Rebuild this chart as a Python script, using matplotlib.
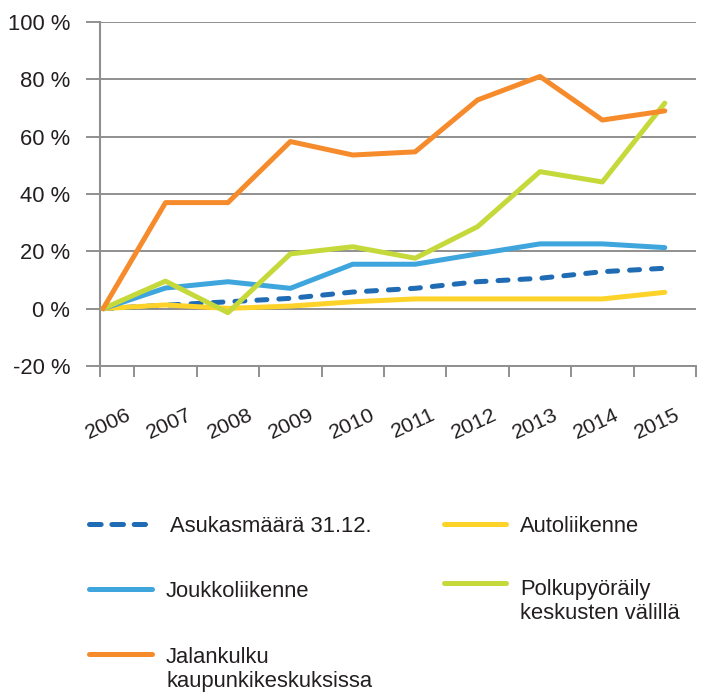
import matplotlib
matplotlib.use("Agg")
import matplotlib.pyplot as plt
from matplotlib.lines import Line2D
from matplotlib.ticker import FixedLocator

years = ['2006', '2007', '2008', '2009', '2010', '2011', '2012', '2013', '2014', '2015']
asukas = [0, 1.2, 2.4, 3.6, 5.8, 7.1, 9.4, 10.6, 12.9, 14.1]
auto = [0, 1.3, 0.1, 0.9, 2.4, 3.4, 3.4, 3.4, 3.4, 5.7]
joukko = [0, 7.2, 9.4, 7.1, 15.5, 15.5, 19.1, 22.6, 22.6, 21.3]
polku = [0, 9.6, -1.4, 19.1, 21.6, 17.6, 28.6, 47.8, 44.2, 71.7]
jalan = [0, 37.0, 37.0, 58.3, 53.6, 54.7, 72.8, 81.0, 65.8, 69.0]

labels = ['Asukasmäärä 31.12.', 'Autoliikenne', 'Joukkoliikenne',
          'Polkupyöräily\nkeskusten välillä', 'Jalankulku\nkaupunkikeskuksissa']
colors = ['#1F6CB4', '#FDD329', '#3FA5DD', '#C5D93A', '#F68B2C']
yticks = [-20, 0, 20, 40, 60, 80, 100]

plt.rcParams['font.family'] = ['Liberation Sans', 'DejaVu Sans']

grey = '#8F8F8F'
txt = '#231F20'
lw = 3.6

fig = plt.figure(figsize=(7.02, 6.93), dpi=100)
ax = fig.add_axes([100 / 702, 1 - 366 / 693, 596 / 702, 344 / 693])

x = list(range(len(years)))
series = [asukas, auto, joukko, polku, jalan]
for i, (vals, c) in enumerate(zip(series, colors)):
    if i == 0:
        ax.plot(x, vals, color=c, lw=lw, dashes=(2.0, 2.4), dash_capstyle='round', zorder=3 + i)
    else:
        ax.plot(x, vals, color=c, lw=lw, solid_capstyle='round', solid_joinstyle='round', zorder=3 + i)

xmin, xmax = -0.05, 9.5
ax.set_xlim(xmin, xmax)
ax.set_ylim(-20, 100)
ax.set_yticks(yticks)
ax.set_yticklabels(['%d %%' % v for v in yticks], fontsize=15.8, color=txt)
ax.grid(axis='y', color=grey, lw=1.4, zorder=1)
ax.set_axisbelow(True)

# year labels sit a little tighter than the points in the original
ax.set_xticks([0.08 + k * 0.978 for k in x])
ax.set_xticklabels(years, rotation=25, ha='center', fontsize=15.4, color=txt)
ax.xaxis.set_minor_locator(FixedLocator([xmin] + [k + 0.5 for k in x]))
ax.tick_params(axis='x', which='major', length=0, pad=28)
ax.tick_params(axis='x', which='minor', length=8, width=1.4, color=grey, direction='out')
ax.tick_params(axis='y', length=10, width=1.4, color=grey, direction='out', pad=11.5)

for s in ['top', 'right']:
    ax.spines[s].set_visible(False)
ax.spines['left'].set_color(grey)
ax.spines['left'].set_linewidth(1.5)
ax.spines['bottom'].set_color(grey)
ax.spines['bottom'].set_linewidth(1.4)

# legend, drawn by hand to follow the original layout
# (text y = baseline of the last line of each label)
W, H = 702.0, 693.0
leg = [
    (0, 89, 145, 524.3, 170, 531.7),
    (1, 443.5, 506, 524.3, 520, 531.7),
    (2, 89, 151.5, 589.3, 166, 596.7),
    (3, 443.5, 506, 583.3, 520, 619.3),
    (4, 89, 151.5, 654, 166, 686.7),
]
for i, hx0, hx1, hy, tx, ty in leg:
    kw = dict(color=colors[i], lw=lw, transform=fig.transFigure)
    if i == 0:
        kw.update(dashes=(2.33, 2.14), dash_capstyle='round')
    else:
        kw.update(solid_capstyle='round')
    fig.add_artist(Line2D([hx0 / W, hx1 / W], [1 - hy / H, 1 - hy / H], **kw))
    fig.text(tx / W, 1 - ty / H, labels[i], va='baseline', ha='left', color=txt,
             linespacing=1.18, fontsize=15.8)

fig.savefig('out.png', dpi=100)
